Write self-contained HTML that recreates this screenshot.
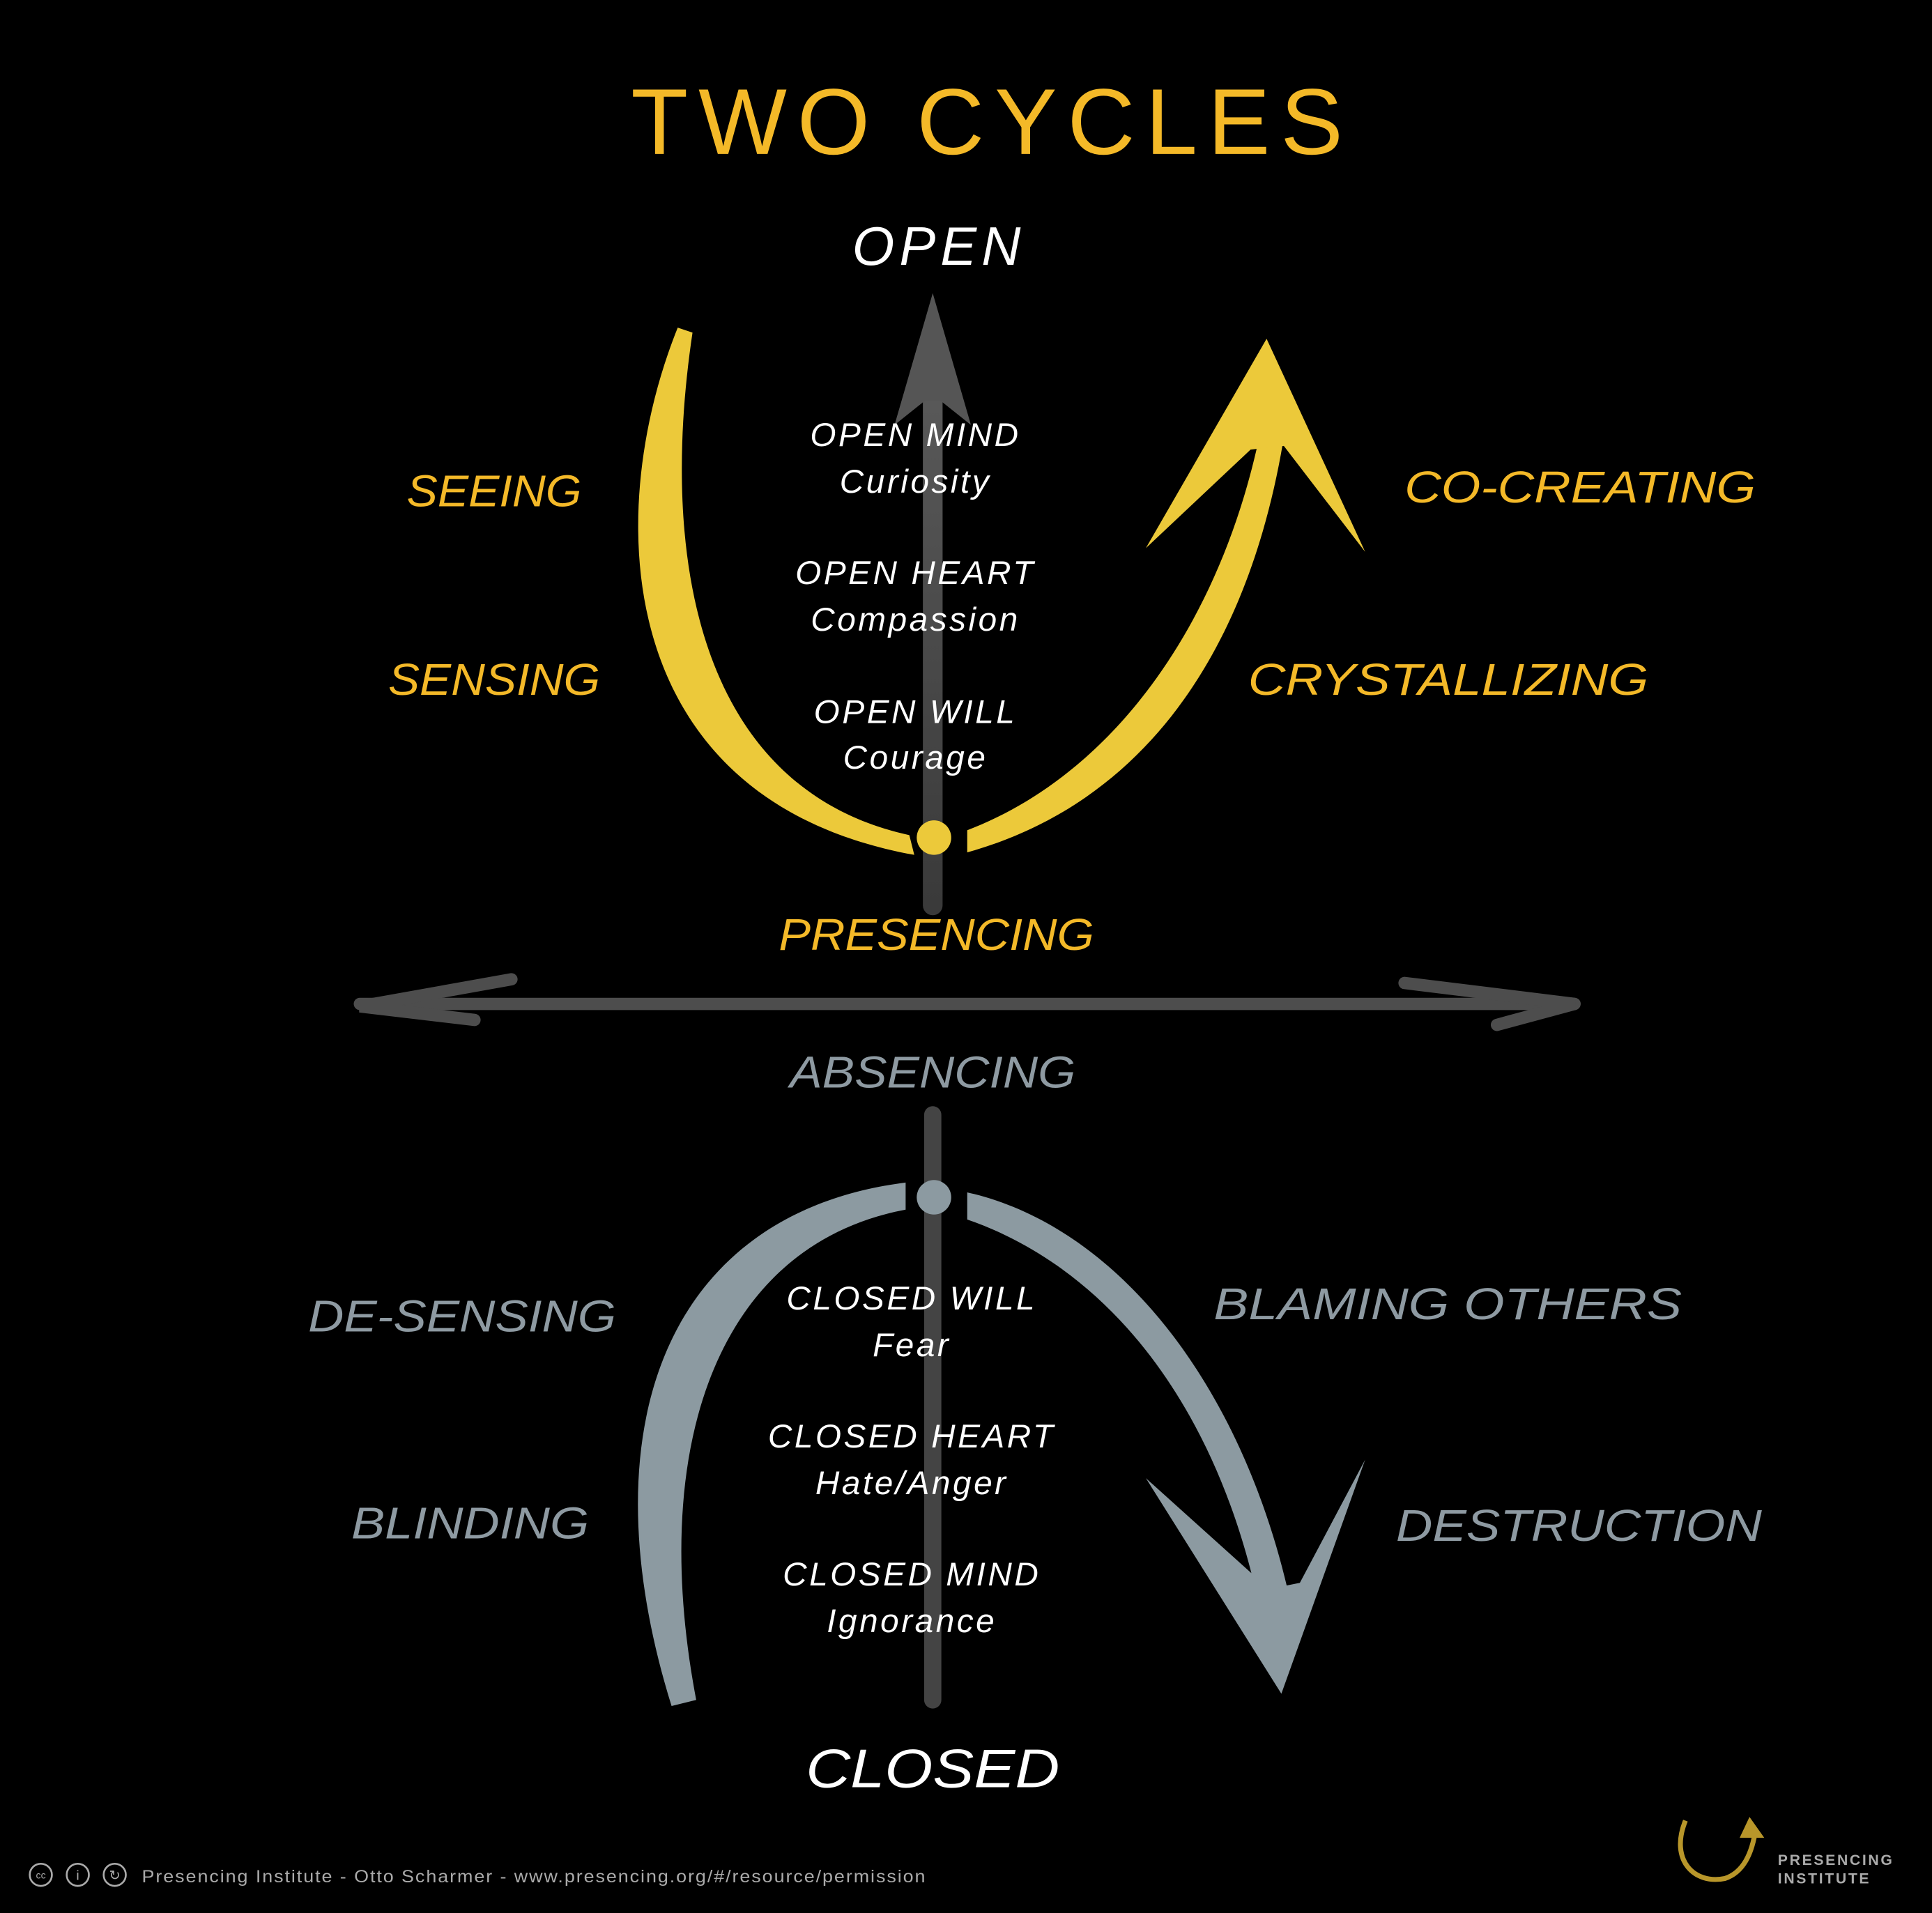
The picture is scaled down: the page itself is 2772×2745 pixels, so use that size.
<!DOCTYPE html>
<html><head><meta charset="utf-8"><style>
html,body{margin:0;padding:0;background:#000;}
svg{display:block;}
text{font-family:"Liberation Sans",sans-serif;}
</style></head><body>
<svg width="2772" height="2745" viewBox="0 0 1568 1553" xmlns="http://www.w3.org/2000/svg">
<defs>
<linearGradient id="vg" gradientUnits="userSpaceOnUse" x1="0" y1="735" x2="0" y2="300">
<stop offset="0" stop-color="#3a3a3a"/><stop offset="1" stop-color="#5a5a5a"/>
</linearGradient>
</defs>
<rect width="1568" height="1553" fill="#000"/>
<!-- Title -->
<text x="512" y="125" textLength="578" lengthAdjust="spacing" font-size="76" fill="#f4b928">TWO CYCLES</text>
<text x="762" y="215" text-anchor="middle" font-size="44" fill="#fff" font-style="italic" letter-spacing="4">OPEN</text>

<!-- grey vertical arrow up -->
<line x1="757" y1="735" x2="757" y2="300" stroke="url(#vg)" stroke-width="16" stroke-linecap="round"/>
<polygon points="757,238 726,345 751,325 763,325 788,345" fill="#555"/>

<!-- yellow U -->
<path d="M550,266 C488,420 498,650 742,694 L738,678 C565,640 535,450 562,270 Z" fill="#ecc93a"/>
<path d="M785,692 C935,650 1015,520 1042,355 L1022,355 C990,505 905,628 785,674 Z" fill="#ecc93a"/>
<polygon points="1028,275 930,445 1015,365 1042,362 1108,448" fill="#ecc93a"/>
<circle cx="758" cy="680" r="14" fill="#ecc93a"/>

<!-- top white texts -->
<g fill="#fff" font-size="27" font-style="italic" text-anchor="middle" letter-spacing="2">
<text x="743" y="362">OPEN MIND</text>
<text x="743" y="400">Curiosity</text>
<text x="743" y="474">OPEN HEART</text>
<text x="743" y="512">Compassion</text>
<text x="743" y="587">OPEN WILL</text>
<text x="743" y="624">Courage</text>
</g>

<!-- yellow labels -->
<g fill="#f4b928" font-size="36" font-style="italic">
<text x="330" y="411" textLength="142" lengthAdjust="spacingAndGlyphs">SEEING</text>
<text x="315" y="564" textLength="172" lengthAdjust="spacingAndGlyphs">SENSING</text>
<text x="1140" y="408" textLength="285" lengthAdjust="spacingAndGlyphs">CO-CREATING</text>
<text x="1013" y="564" textLength="325" lengthAdjust="spacingAndGlyphs">CRYSTALLIZING</text>
<text x="632" y="771" textLength="256" lengthAdjust="spacingAndGlyphs">PRESENCING</text>
</g>

<!-- horizontal double arrow -->
<g stroke="#4d4d4d" stroke-width="10" stroke-linecap="round" fill="none">
<line x1="292" y1="815" x2="1278" y2="815"/>
<polyline points="415,795 292,817 385,828"/>
<polyline points="1140,798 1278,815 1215,832"/>
</g>

<text x="757" y="883" text-anchor="middle" textLength="232" lengthAdjust="spacingAndGlyphs" font-size="36" fill="#8e9aa2" font-style="italic">ABSENCING</text>

<!-- grey vertical lower -->
<line x1="757" y1="905" x2="757" y2="1380" stroke="#444" stroke-width="14" stroke-linecap="round"/>

<!-- grey arcs -->
<path d="M735,960 C540,985 475,1160 545,1385 L565,1380 C525,1170 585,1010 735,982 Z" fill="#8c9aa1"/>
<path d="M785,968 C905,995 1005,1120 1045,1290 L1020,1295 C985,1140 900,1030 785,990 Z" fill="#8c9aa1"/>
<polygon points="1040,1375 930,1200 1030,1290 1055,1285 1108,1185" fill="#8c9aa1"/>
<circle cx="758" cy="972" r="14" fill="#8c9aa1"/>

<!-- bottom white texts -->
<g fill="#fff" font-size="27" font-style="italic" text-anchor="middle" letter-spacing="2">
<text x="740" y="1063">CLOSED WILL</text>
<text x="740" y="1101">Fear</text>
<text x="740" y="1175">CLOSED HEART</text>
<text x="740" y="1213">Hate/Anger</text>
<text x="740" y="1287">CLOSED MIND</text>
<text x="740" y="1325">Ignorance</text>
</g>

<g fill="#8e9aa2" font-size="36" font-style="italic">
<text x="250" y="1081" textLength="250" lengthAdjust="spacingAndGlyphs">DE-SENSING</text>
<text x="285" y="1249" textLength="193" lengthAdjust="spacingAndGlyphs">BLINDING</text>
<text x="985" y="1071" textLength="380" lengthAdjust="spacingAndGlyphs">BLAMING OTHERS</text>
<text x="1133" y="1251" textLength="297" lengthAdjust="spacingAndGlyphs">DESTRUCTION</text>
</g>

<text x="757" y="1451" text-anchor="middle" textLength="206" lengthAdjust="spacingAndGlyphs" font-size="44" fill="#fff" font-style="italic">CLOSED</text>

<!-- footer -->
<g stroke="#aaa" stroke-width="1.5" fill="none">
<circle cx="33" cy="1522" r="9"/><circle cx="63" cy="1522" r="9"/><circle cx="93" cy="1522" r="9"/>
</g>
<text x="33" y="1525" text-anchor="middle" font-size="8" fill="#aaa">cc</text>
<text x="63" y="1526" text-anchor="middle" font-size="11" fill="#aaa">i</text>
<text x="93" y="1526" text-anchor="middle" font-size="11" fill="#aaa">↻</text>
<text x="115" y="1528" font-size="14" fill="#aaa" letter-spacing="1" textLength="637" lengthAdjust="spacingAndGlyphs">Presencing Institute - Otto Scharmer - www.presencing.org/#/resource/permission</text>

<path d="M1368,1478 C1355,1510 1375,1530 1400,1525 C1415,1520 1422,1505 1425,1485" stroke="#b8962a" stroke-width="4" fill="none"/>
<polygon points="1420,1475 1412,1492 1432,1492" fill="#b8962a"/>
<text x="1443" y="1514" font-size="12" font-weight="bold" fill="#aaa" letter-spacing="1.5">PRESENCING</text>
<text x="1443" y="1529" font-size="12" font-weight="bold" fill="#aaa" letter-spacing="1.5">INSTITUTE</text>
</svg>
</body></html>
